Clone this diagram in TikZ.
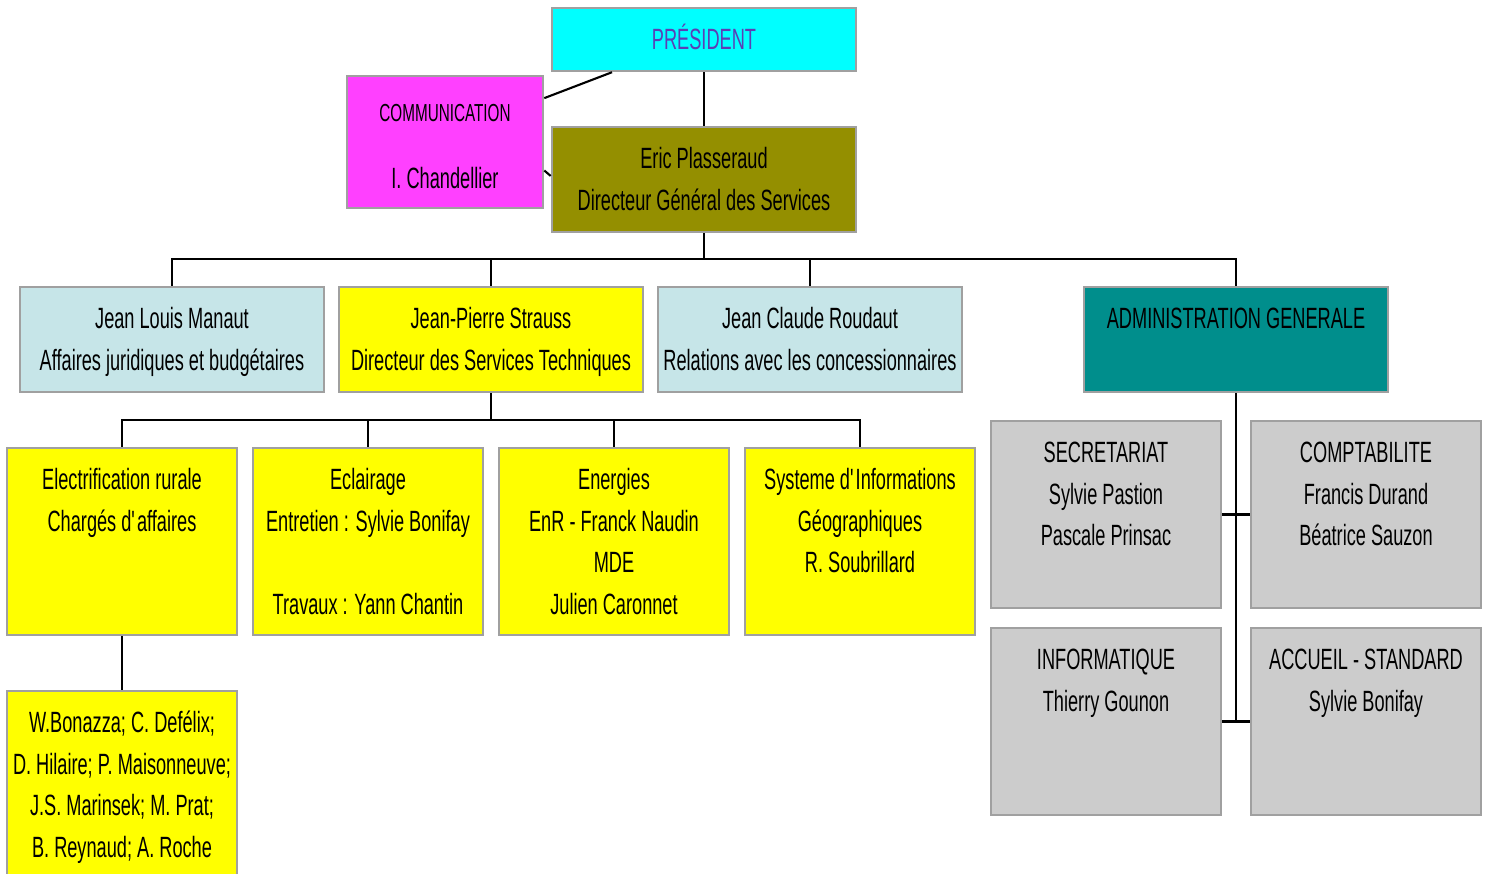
\documentclass[tikz,border=0pt]{standalone}
\usepackage{fontspec}
\setmainfont[FakeStretch=0.62]{Liberation Sans}
\usetikzlibrary{
    calc,
    positioning
}

\definecolor{prescyan}{RGB}{0,255,255}
\definecolor{presink}{RGB}{91,63,181}
\definecolor{commpink}{RGB}{255,64,255}
\definecolor{dgsolive}{RGB}{148,143,0}
\definecolor{paleblue}{RGB}{198,229,232}
\definecolor{techyellow}{RGB}{255,255,0}
\definecolor{adminteal}{RGB}{0,142,140}
\definecolor{servgray}{RGB}{204,204,204}
\definecolor{edgegray}{RGB}{160,160,160}

\begin{document}
\begin{tikzpicture}[x=0.01cm, y=-0.01cm,
    orgbox/.style 2 args={draw=edgegray, line width=0.7pt, inner sep=0pt,
        font=\fontsize{8.34}{11.8}\selectfont,
        execute at begin node={\begin{minipage}[c][#2][t]{#1}\centering\rule{0pt}{0.42cm}},
        execute at end node={\end{minipage}}},
    wide/.style={orgbox={3.04cm}{1.05cm}},
    tall/.style={orgbox={2.30cm}{1.87cm}},
    link/.style={line width=0.6pt}]
                    \useasboundingbox (0,0) rectangle (1487,874);

                    \node[orgbox={3.04cm}{0.63cm}, fill=prescyan, text=presink] (pres) at (704, 39.5) {PRÉSIDENT};
                    \node[orgbox={1.96cm}{1.32cm}, fill=commpink] (comm) at (445, 142) {\rule{0pt}{0.46cm}{\fontsize{7}{8}\selectfont COMMUNICATION}\\[0.255cm]I. Chandellier};
                    \node[wide, fill=dgsolive] (dgs) at (704, 179.5) {Eric Plasseraud\\Directeur Général des Services};

                    \node[wide, fill=paleblue] (manaut) at (172, 339.5) {Jean Louis Manaut\\Affaires juridiques et budgétaires};
                    \node[wide, fill=techyellow] (strauss) at (491, 339.5) {Jean-Pierre Strauss\\Directeur des Services Techniques};
                    \node[wide, fill=paleblue] (roudaut) at (810, 339.5) {Jean Claude Roudaut\\Relations avec les concessionnaires};
                    \node[wide, fill=adminteal] (admin) at (1236, 339.5) {ADMINISTRATION GENERALE};

                    \node[tall, fill=techyellow] (elec) at (122, 541.5) {Electrification rurale\\Chargés d\textquotesingle affaires};
                    \node[tall, fill=techyellow] (eclair) at (368, 541.5) {Eclairage\\Entretien : Sylvie Bonifay\\[0.415cm]Travaux : Yann Chantin};
                    \node[tall, fill=techyellow] (energ) at (614, 541.5) {Energies\\EnR - Franck Naudin\\MDE\\Julien Caronnet};
                    \node[tall, fill=techyellow] (sig) at (860, 541.5) {Systeme d\textquotesingle Informations\\Géographiques\\R. Soubrillard};
                    \node[tall, fill=techyellow] (charges) at (122, 784.5) {W.Bonazza; C. Defélix;\\D. Hilaire; P. Maisonneuve;\\J.S. Marinsek; M. Prat;\\B. Reynaud; A. Roche};

                    \node[tall, fill=servgray] (secr) at (1106, 514.5) {SECRETARIAT\\Sylvie Pastion\\Pascale Prinsac};
                    \node[tall, fill=servgray] (compta) at (1366, 514.5) {COMPTABILITE\\Francis Durand\\Béatrice Sauzon};
                    \node[tall, fill=servgray] (info) at (1106, 721.5) {INFORMATIQUE\\Thierry Gounon};
                    \node[tall, fill=servgray] (accueil) at (1366, 721.5) {ACCUEIL - STANDARD\\Sylvie Bonifay};

                    \coordinate (bus1) at (704, 259);
                    \coordinate (bus2) at (491, 420);

                    % top of the chart
                    \draw[link] (pres.south) -- (dgs.north);
                    \draw[link] ($(comm.north east)!0.174!(comm.south east)$) -- ($(pres.south west)!0.2!(pres.south east)$);
                    \draw[link] ($(comm.north east)!0.712!(comm.south east)$) -- ($(dgs.north west)!0.467!(dgs.south west)$);

                    % services under the DGS
                    \draw[link] (dgs.south) -- (bus1);
                    \draw[link] (manaut.north) |- (bus1);
                    \draw[link] (strauss.north) |- (bus1);
                    \draw[link] (roudaut.north) |- (bus1);
                    \draw[link] (admin.north) |- (bus1);

                    % technical services
                    \draw[link] (strauss.south) -- (bus2);
                    \draw[link] (elec.north) |- (bus2);
                    \draw[link] (eclair.north) |- (bus2);
                    \draw[link] (energ.north) |- (bus2);
                    \draw[link] (sig.north) |- (bus2);
                    \draw[link] (elec.south) -- (charges.north);

                    % administration
                    \draw[link] (admin.south) |- (info.east);
                    \draw[link] (secr.east) -- (compta.west);
                    \draw[link] (info.east) -- (accueil.west);
                \end{tikzpicture}
\end{document}
